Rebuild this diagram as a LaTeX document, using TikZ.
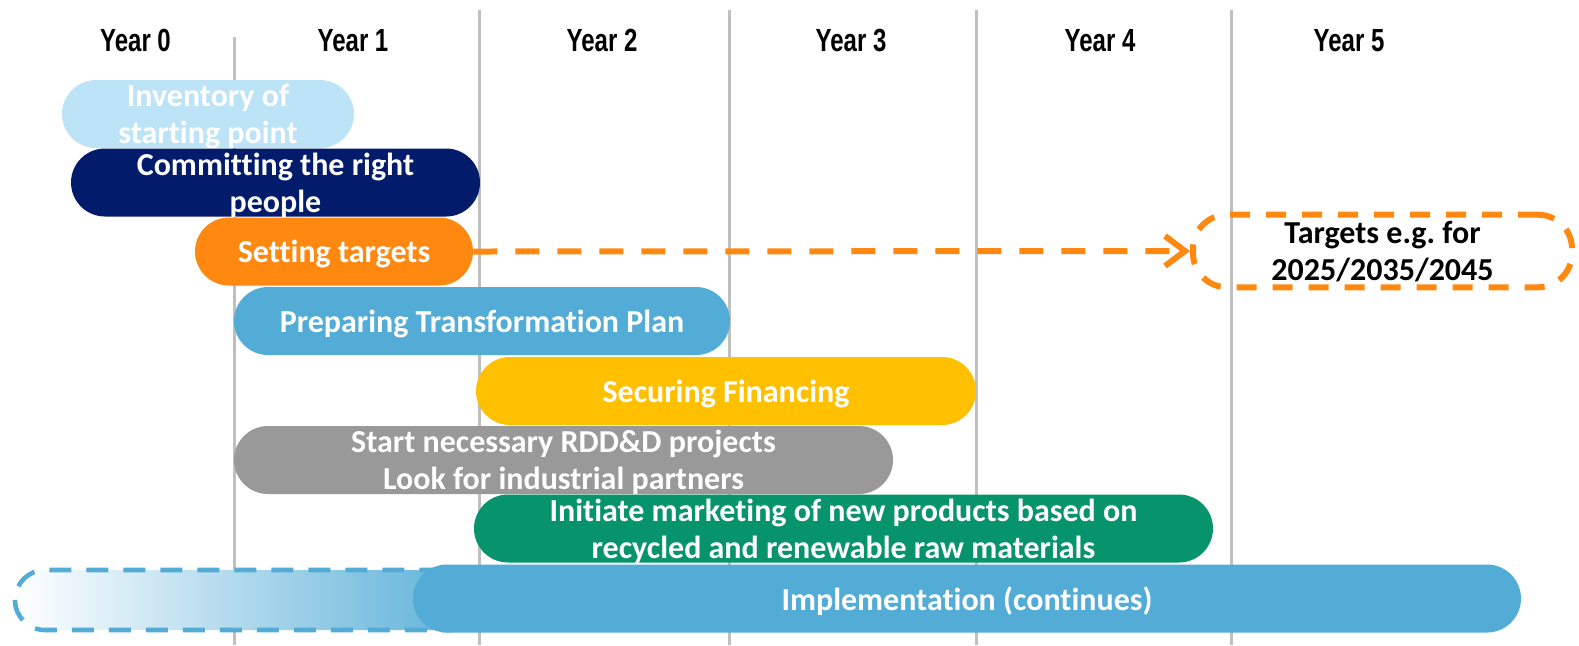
\documentclass[tikz,border=0pt]{standalone}
\usepackage{fontspec}
\setmainfont{Carlito}[Ligatures=NoCommon]
\newfontfamily\yearfont[FakeStretch=0.75]{Liberation Sans}
\usetikzlibrary{arrows.meta}

\definecolor{invblue}{HTML}{BDE3F7}
\definecolor{navy}{HTML}{021C6B}
\definecolor{tgtorange}{HTML}{FF8811}
\definecolor{implblue}{HTML}{52ACD6}
\definecolor{gold}{HTML}{FFC000}
\definecolor{midgray}{HTML}{999999}
\definecolor{mktgreen}{HTML}{07936B}
\definecolor{linegray}{HTML}{BFBFBF}

\begin{document}
\frenchspacing
\begin{tikzpicture}[x=0.5pt,y=-0.5pt,
  bar/.style={rounded corners=17pt, minimum height=34pt, inner sep=0pt, text=white,
    align=center, text depth=0pt, font=\fontsize{16}{18.5}\selectfont\bfseries},
  yearlbl/.style={font=\yearfont\bfseries\fontsize{16}{16}\selectfont},
  yearline/.style={linegray, line width=1.5pt}]
  \useasboundingbox (0,0) rectangle (1579,645);

  \draw[yearline] (234,37) -- (234,645);
  \foreach \x in {479,729,976,1231}
    \draw[yearline] (\x,10) -- (\x,645);

  \node[yearlbl] (year0) at (135.5,40.5) {Year 0};
  \node[yearlbl] (year1) at (353,40.5) {Year 1};
  \node[yearlbl] (year2) at (602,40.5) {Year 2};
  \node[yearlbl] (year3) at (851,40.5) {Year 3};
  \node[yearlbl] (year4) at (1100,40.5) {Year 4};
  \node[yearlbl] (year5) at (1349,40.5) {Year 5};

  \node[bar, fill=invblue, minimum width=146pt] (inventory) at (208,114) {Inventory of\\starting point};
  \node[bar, fill=navy, minimum width=204.5pt] (commit) at (275.5,182.5) {Committing the right\\people};
  \node[bar, fill=tgtorange, minimum width=139pt] (settargets) at (334,251.5) {Setting targets};
  \node[bar, fill=implblue, minimum width=248pt] (plan) at (482,321) {Preparing Transformation Plan};
  \node[bar, fill=gold, minimum width=250pt] (financing) at (726,391) {Securing Financing};
  \node[bar, fill=midgray, minimum width=329.5pt] (rdd) at (563.5,460) {Start necessary RDD\&D projects\\Look for industrial partners};
  \node[bar, fill=mktgreen, minimum width=369.5pt] (marketing) at (843.5,528.5) {Initiate marketing of new products based on\\recycled and renewable raw materials};

  \shade[left color=white, right color=implblue!95, rounded corners=15pt] (15,570) rectangle (480,630);
  \draw[implblue, line width=2.3pt, dash pattern=on 11pt off 7.5pt, rounded corners=15pt] (15,570) rectangle (480,630);
  \node[bar, fill=implblue, minimum width=554pt] (implementation) at (967,598.5) {Implementation (continues)};

  \node[draw=tgtorange, line width=3pt, dash pattern=on 10pt off 8pt, rounded corners=17pt,
    minimum width=189.5pt, minimum height=36pt, align=center, text depth=0pt,
    font=\fontsize{16}{18.5}\selectfont\bfseries] (targetbox) at (1382.5,251) {Targets e.g. for\\2025/2035/2045};
  \draw[tgtorange, line width=3pt, dash pattern=on 12pt off 9pt,
    -{Straight Barb[length=10pt,width=15pt]}] (settargets.east) -- (targetbox.west);
\end{tikzpicture}
\end{document}
